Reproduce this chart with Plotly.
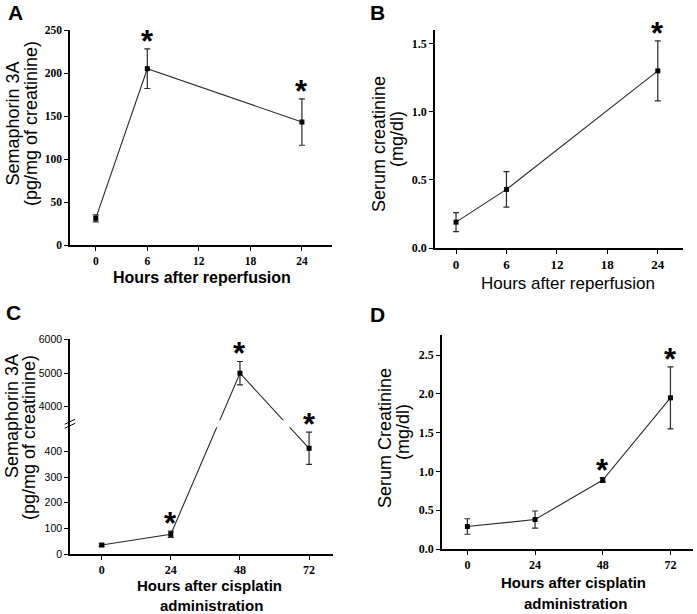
import plotly.graph_objects as go

W, H = 697, 614

# ---------------- data ----------------
A_hours = [0, 6, 24]
A_sema = [31, 205, 143]
A_err = [4, 23, 27]
A_star = [False, True, True]

B_hours = [0, 6, 24]
B_creat = [0.19, 0.43, 1.30]
B_err = [0.07, 0.13, 0.22]
B_star = [False, False, True]

C_hours = [0, 24, 48, 72]
C_sema = [35, 77, 5000, 413]
C_err = [5, 12, 350, 63]
C_star = [False, True, True, True]

D_hours = [0, 24, 48, 72]
D_creat = [0.29, 0.38, 0.89, 1.95]
D_err = [0.10, 0.11, 0.03, 0.40]
D_star = [False, False, True, True]

A_xticks = [0, 6, 12, 18, 24]
A_yticks = [0, 50, 100, 150, 200, 250]
B_xticks = [0, 6, 12, 18, 24]
B_yticks = [0.0, 0.5, 1.0, 1.5]
B_yticktext = ["0.0", "0.5", "1.0", "1.5"]
C_xticks = [0, 24, 48, 72]
C_yticks = [0, 100, 200, 300, 400, 4000, 5000, 6000]
D_xticks = [0, 24, 48, 72]
D_yticks = [0.0, 0.5, 1.0, 1.5, 2.0, 2.5]
D_yticktext = ["0.0", "0.5", "1.0", "1.5", "2.0", "2.5"]

# broken axis mapping for panel C (lower segment 0-495, upper 3600-6000)
LOW_MAX = 495
UP_MIN = 3600
UP_BASE = 575.4
UP_SCALE = 0.1309


def brk(v):
    return v if v <= LOW_MAX else UP_BASE + (v - 4000) * UP_SCALE


def px_x(p):
    return p / W


def px_y(p):
    return 1 - p / H


fig = go.Figure()

LINE_COL = "#2a2a2a"
SERIF = "Liberation Serif"
SANS = "Liberation Sans"


def add_series(xs, ys, up, dn, xa, ya):
    fig.add_trace(go.Scatter(
        x=xs, y=ys, mode="lines+markers",
        line=dict(color=LINE_COL, width=1.1),
        marker=dict(symbol="square", size=5, color="black"),
        error_y=dict(type="data", symmetric=False, array=up, arrayminus=dn,
                     color=LINE_COL, thickness=1.2, width=3),
        xaxis=xa, yaxis=ya, showlegend=False, hoverinfo="skip"))


add_series(A_hours, A_sema, A_err, A_err, "x", "y")
add_series(B_hours, B_creat, B_err, B_err, "x2", "y2")
C_disp = [brk(v) for v in C_sema]
C_up = [brk(v + e) - brk(v) for v, e in zip(C_sema, C_err)]
C_dn = [brk(v) - brk(v - e) for v, e in zip(C_sema, C_err)]
add_series(C_hours, C_disp, C_up, C_dn, "x3", "y3")
add_series(D_hours, D_creat, D_err, D_err, "x4", "y4")

axis_common = dict(showline=True, linecolor="black", linewidth=1.5,
                   ticks="outside", ticklen=4, tickwidth=1.3, tickcolor="black",
                   showgrid=False, zeroline=False, fixedrange=True, automargin=False)


def sb(size):
    return dict(family=SERIF, size=size, color="black", weight="bold")


sans_reg = dict(family=SANS, size=10.5, color="black")

fig.update_layout(
    width=W, height=H, margin=dict(l=0, r=0, t=0, b=0, pad=0, autoexpand=False),
    paper_bgcolor="white", plot_bgcolor="white",
    xaxis=dict(domain=[px_x(70), px_x(332)], range=[-3, 27.5], anchor="y",
               tickvals=A_xticks, tickfont=sb(11.5), **axis_common),
    yaxis=dict(domain=[px_y(245), px_y(30)], range=[0, 250], anchor="x",
               tickvals=A_yticks, tickfont=sb(11.5), **axis_common),
    xaxis2=dict(domain=[px_x(435), px_x(683)], range=[-2.5, 27], anchor="y2",
                tickvals=B_xticks, tickfont=sb(13), **axis_common),
    yaxis2=dict(domain=[px_y(248), px_y(30)], range=[0, 1.6], anchor="x2",
                tickvals=B_yticks, ticktext=B_yticktext, tickfont=sb(12), **axis_common),
    xaxis3=dict(domain=[px_x(70), px_x(333)], range=[-11, 80.3], anchor="y3",
                tickvals=C_xticks, tickfont=sb(12), **axis_common),
    yaxis3=dict(domain=[px_y(554), px_y(339)], range=[0, 840], anchor="x3",
                tickvals=[brk(v) for v in C_yticks], ticktext=[str(v) for v in C_yticks],
                tickfont=sans_reg, **axis_common),
    xaxis4=dict(domain=[px_x(442), px_x(693)], range=[-9, 80], anchor="y4",
                tickvals=D_xticks, tickfont=sb(12), **axis_common),
    yaxis4=dict(domain=[px_y(549), px_y(335)], range=[0, 2.76], anchor="x4",
                tickvals=D_yticks, ticktext=D_yticktext, tickfont=sb(12), **axis_common),
)

# break gap and marks for panel C
gap_lo, gap_hi = LOW_MAX, brk(UP_MIN)
fig.add_shape(type="rect", xref="x3 domain", yref="y3", x0=0.012, x1=1.0,
              y0=gap_lo, y1=gap_hi, fillcolor="white", line=dict(width=0), layer="above")
mid = (gap_lo + gap_hi) / 2
for off in (-2, 2):
    fig.add_shape(type="line", xref="x3 domain", yref="y3", ysizemode="pixel",
                  yanchor=mid, x0=-0.02, x1=0.02, y0=off - 2.5, y1=off + 2.5,
                  line=dict(color="black", width=1), layer="above")

annotations = []


def star(xs, ys_top, flags, xa, ya):
    for xv, yv, f in zip(xs, ys_top, flags):
        if f:
            annotations.append(dict(x=xv, y=yv, xref=xa, yref=ya, text="<b>*</b>",
                                    showarrow=False, yanchor="bottom", yshift=-12,
                                    font=dict(family=SANS, size=31, color="black")))


star(A_hours, [v + e for v, e in zip(A_sema, A_err)], A_star, "x", "y")
star(B_hours, [v + e for v, e in zip(B_creat, B_err)], B_star, "x2", "y2")
star(C_hours, [brk(v + e) for v, e in zip(C_sema, C_err)], C_star, "x3", "y3")
star(D_hours, [v + e for v, e in zip(D_creat, D_err)], D_star, "x4", "y4")


def txt(text, x, y, size, angle=0, bold=False):
    annotations.append(dict(text=f"<b>{text}</b>" if bold else text,
                            x=px_x(x), y=px_y(y), xref="paper", yref="paper",
                            xanchor="center", yanchor="middle", textangle=angle,
                            showarrow=False, font=dict(family=SANS, size=size, color="black")))


# panel letters
txt("A", 15, 12, 21, bold=True)
txt("B", 377, 12, 21, bold=True)
txt("C", 14, 312, 21, bold=True)
txt("D", 377, 314, 21, bold=True)

# y titles
txt("Semaphorin 3A", 12.5, 124, 18, angle=-90)
txt("(pg/mg of creatinine)", 31, 124, 18, angle=-90)
txt("Serum creatinine", 379, 144, 18, angle=-90)
txt("(mg/dl)", 397, 139, 18, angle=-90)
txt("Semaphorin 3A", 12, 416, 18, angle=-90)
txt("(pg/mg of creatinine)", 29, 438, 18, angle=-90)
txt("Serum Creatinine", 385, 438, 18, angle=-90)
txt("(mg/dl)", 403, 432, 18, angle=-90)

# x titles
txt("Hours after reperfusion", 202, 277, 16, bold=True)
txt("Hours after reperfusion", 568, 283, 17)
txt("Hours after cisplatin", 209, 585, 15, bold=True)
txt("administration", 211, 605, 15, bold=True)
txt("Hours after cisplatin", 573, 582, 15, bold=True)
txt("administration", 575, 603, 15, bold=True)

fig.update_layout(annotations=annotations)

post = (
    "document.documentElement.style.margin='0';"
    "document.body.style.margin='0';"
    "document.body.style.overflow='hidden';"
)

fig.write_html("out.html", config={"displayModeBar": False}, post_script=post)
